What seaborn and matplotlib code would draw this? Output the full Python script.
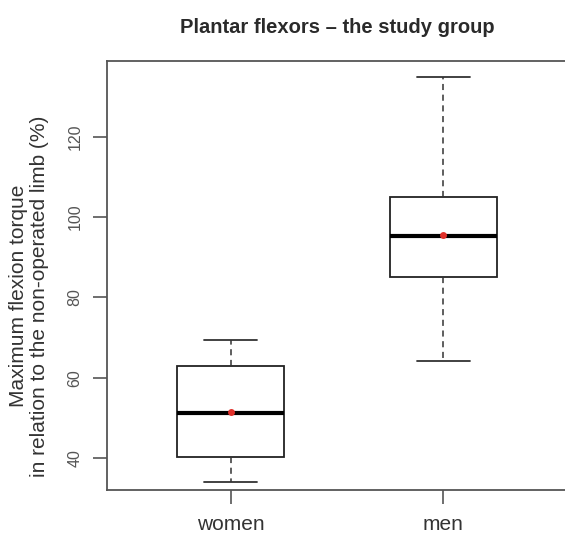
import numpy as np
import pandas as pd
import matplotlib
matplotlib.use("Agg")
import matplotlib.pyplot as plt
import seaborn as sns

# five-number summaries (min, q1, median, q3, max)
groups = ["women", "men"]
women_vals = [34.0, 40.3, 51.2, 62.8, 69.3]
men_vals = [64.2, 85.0, 95.3, 105.0, 134.8]
group_means = [51.4, 95.6]
y_ticks = [40, 60, 80, 100, 120]

sns.set_theme(style="white")
plt.rcParams['font.family'] = ['Liberation Sans', 'DejaVu Sans']

df = pd.DataFrame({
    "group": ["women"] * len(women_vals) + ["men"] * len(men_vals),
    "value": women_vals + men_vals,
})
means = pd.DataFrame({"group": groups, "value": group_means})

fig = plt.figure(figsize=(5.65, 5.4), dpi=100)
ax = fig.add_axes([107 / 565, 1 - 490 / 540, 460 / 565, (490 - 60.7) / 540])

sns.boxplot(data=df, x="group", y="value", order=groups, width=0.5,
            whis=(0, 100), color="white", linecolor="#222222", linewidth=1.3,
            medianprops={"color": "black", "linewidth": 3},
            whiskerprops={"linestyle": (0, (4, 3)), "linewidth": 1.1, "color": "#333333"},
            capprops={"linewidth": 1.3, "color": "#333333"},
            ax=ax)
sns.stripplot(data=means, x="group", y="value", order=groups, color="#e0302a",
              size=5, jitter=False, ax=ax, zorder=5)

ax.set_xlim(-0.58, 1.58)
ax.set_ylim(32.03, 138.95)
ax.set_yticks(y_ticks)
ax.set_xlabel("")
ax.set_ylabel("Maximum flexion torque\nin relation to the non-operated limb (%)",
              fontsize=15, color="#333333", va="center", linespacing=1.1)
ax.yaxis.set_label_coords(-0.170, 0.452)
ax.set_title("Plantar flexors \u2013 the study group", fontsize=14.5,
             fontweight="bold", color="#2a2a2a", pad=20)

for side in ["left", "bottom", "top"]:
    ax.spines[side].set_color("#555555")
    ax.spines[side].set_linewidth(1.3)
ax.spines["right"].set_visible(False)

ax.tick_params(axis="y", direction="out", length=10, width=1.2, color="#555555",
               labelsize=11.5, labelcolor="#555555", pad=7.5, left=True)
ax.tick_params(axis="x", direction="out", length=10, width=1.2, color="#555555",
               labelsize=15, labelcolor="#333333", pad=8, bottom=True)
plt.setp(ax.get_yticklabels(), rotation=90, va="center")

fig.savefig("out.png", dpi=100)
